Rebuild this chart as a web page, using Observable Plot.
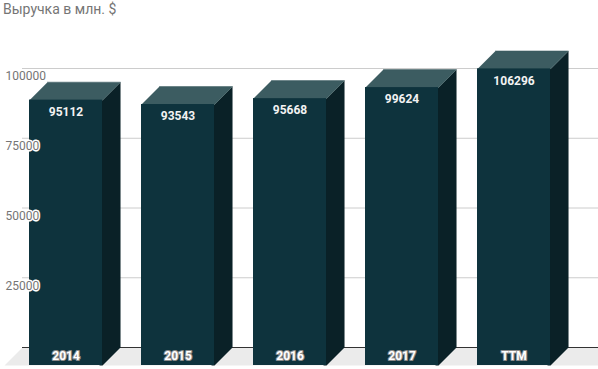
<!DOCTYPE html>
<html>
<head>
<meta charset="utf-8">
<script src="https://cdn.jsdelivr.net/npm/d3@7"></script>
<script src="https://cdn.jsdelivr.net/npm/@observablehq/plot@0.6"></script>
<style>
  html, body { margin: 0; padding: 0; background: #fff; overflow: hidden; }
  #wrap { position: relative; width: 598px; height: 369px; }
  #title { position: absolute; left: 3px; top: 1px; font: 14px Roboto, sans-serif; color: #757575; z-index: 2; }
  svg { display: block; }
</style>
</head>
<body>
<div id="wrap"><div id="title">Выручка в млн. $</div></div>
<script>
const categories = ["2014", "2015", "2016", "2017", "TTM"];
const revenue = [95112, 93543, 95668, 99624, 106296];
const yTicks = [25000, 50000, 75000, 100000];

// layout / style constants
const W = 598, H = 369;
const mL = 29, mR = 9, mT = 86, mB = 4;
const BAR = 0.652;            // bar width as fraction of the category step
const DEPTH = 18;             // 3D depth in pixels
const stepPx = (W - mL - mR) / categories.length;
const pxPerVal = (H - mT - mB) / 100000;
const dX = DEPTH / stepPx;
const dY = DEPTH / pxPerVal;
const OVER = 3 / stepPx;      // side face tucks 3px under the front face

const bars = categories.map((c, i) => ({cat: c, i, value: revenue[i]}));

const topFaces = bars.flatMap(b => [
  {bar: b.cat, x: b.i, y: b.value},
  {bar: b.cat, x: b.i + BAR, y: b.value},
  {bar: b.cat, x: b.i + BAR + dX, y: b.value + dY},
  {bar: b.cat, x: b.i + dX, y: b.value + dY}
]);
const sideFaces = bars.flatMap(b => [
  {bar: b.cat, x: b.i + BAR - OVER, y: b.value},
  {bar: b.cat, x: b.i + BAR, y: b.value},
  {bar: b.cat, x: b.i + BAR + dX, y: b.value + dY},
  {bar: b.cat, x: b.i + BAR + dX, y: dY},
  {bar: b.cat, x: b.i + BAR, y: 0},
  {bar: b.cat, x: b.i + BAR - OVER, y: 0}
]);
const xL = (4 - mL) / stepPx, xR = (W - mL) / stepPx;
const floor = [
  {x: xL, y: 0}, {x: xR, y: 0}, {x: xR + dX, y: dY}, {x: xL + dX, y: dY}
];

const chart = Plot.plot({
  width: W, height: H,
  marginLeft: mL, marginRight: mR, marginTop: mT, marginBottom: mB,
  style: {fontFamily: "Roboto, sans-serif", background: "transparent", overflow: "hidden"},
  x: {type: "linear", domain: [0, categories.length], axis: null},
  y: {type: "linear", domain: [0, 100000], axis: null},
  marks: [
    Plot.line(floor, {x: "x", y: "y", fill: "#ebebeb", stroke: "none"}),
    Plot.ruleY(yTicks, {dy: -DEPTH, insetLeft: -7, insetRight: -mR, stroke: "#cccccc", strokeWidth: 1}),
    Plot.ruleY([0], {dy: -DEPTH, insetLeft: -7, insetRight: -mR, stroke: "#333333", strokeWidth: 1}),
    Plot.line(sideFaces, {x: "x", y: "y", z: "bar", fill: "#0a2127", stroke: "none"}),
    Plot.line(topFaces, {x: "x", y: "y", z: "bar", fill: "#3c5c61", stroke: "#3c5c61", strokeWidth: 0.5}),
    Plot.rectY(bars, {x1: d => d.i, x2: d => d.i + BAR, y1: 0, y2: "value", inset: 0, fill: "#0e333d"}),
    Plot.text(bars, {x: d => d.i + BAR / 2, y: "value", text: d => String(d.value), dy: 12,
      fill: "#f2f2f2", fontWeight: "bold", fontSize: 12}),
    Plot.text(bars, {x: d => d.i + BAR / 2, y: 0, text: "cat", dy: -9,
      fill: "white", stroke: "#8a8a8a", strokeWidth: 2.2, fontWeight: "bold", fontSize: 12}),
    Plot.text(yTicks, {frameAnchor: "left", y: d => d, text: d => String(d), dx: 5 - mL, dy: -10,
      textAnchor: "start", fill: "#757575", stroke: "white", strokeWidth: 3, fontSize: 12})
  ]
});
document.getElementById("wrap").appendChild(chart);
</script>
</body>
</html>
